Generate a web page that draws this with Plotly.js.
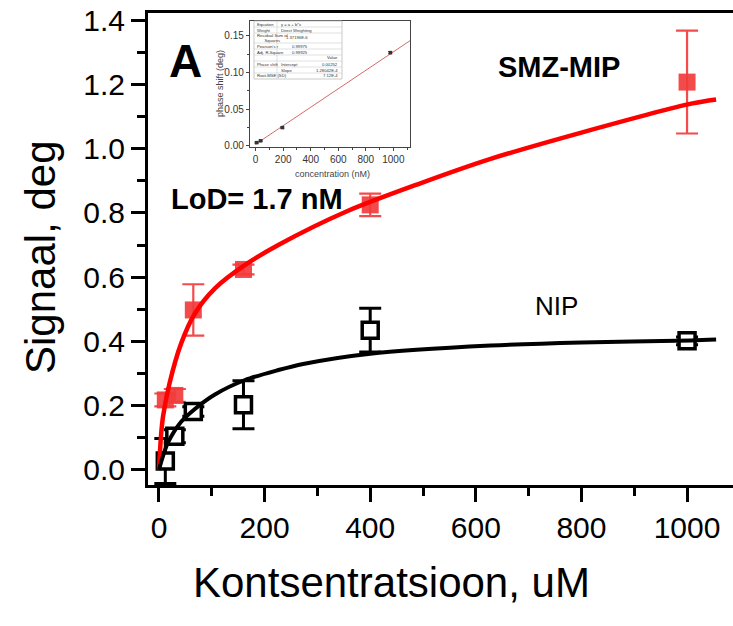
<!DOCTYPE html>
<html>
<head>
<meta charset="utf-8">
<script src="https://cdn.plot.ly/plotly-3.0.1.min.js"></script>
<style>html,body{margin:0;padding:0;background:#fff;}#chart{width:733px;height:626px;}</style>
</head>
<body>
<div id="chart"></div>
<script>
// ---------- data ----------
const concentration = [12, 30, 65, 160, 400, 1000];
const mipSignal = [0.218, 0.232, 0.498, 0.624, 0.825, 1.207];
const mipError = [0.02, 0.02, 0.08, 0.015, 0.035, 0.16];
const nipSignal = [0.028, 0.105, 0.182, 0.203, 0.435, 0.402];
const nipError = [0.07, 0.02, 0.015, 0.075, 0.068, 0.012];

const mipFitX = [0, 2, 4, 7.6, 20, 42, 68, 106, 163, 226, 356, 495, 628, 800, 1008, 1055];
const mipFitY = [0.0, 0.06, 0.11, 0.166, 0.27, 0.394, 0.487, 0.565, 0.638, 0.70, 0.805, 0.892, 0.968, 1.05, 1.14, 1.153];
const nipFitX = [0, 5, 17, 42, 68, 106, 163, 226, 273, 400, 628, 800, 1008, 1055];
const nipFitY = [0.0, 0.03, 0.085, 0.15, 0.19, 0.235, 0.28, 0.311, 0.33, 0.362, 0.387, 0.397, 0.403, 0.406];

const insetConc = [7, 36, 194, 978];
const insetShift = [0.0045, 0.007, 0.025, 0.127];
const insetErr = [0.0008, 0.0008, 0.001, 0.0015];
const insetLineX = [0, 1121];
const insetLineY = [0.0025, 0.1432];

const xTickVals = [0, 200, 400, 600, 800, 1000];
const yTickVals = [0.0, 0.2, 0.4, 0.6, 0.8, 1.0, 1.2, 1.4];
const yTickText = ['0.0', '0.2', '0.4', '0.6', '0.8', '1.0', '1.2', '1.4'];

const tableRows = [
  ['Equation', 'y = a + b*x', ''],
  ['Weight', 'Direct Weighting', ''],
  ['Residual Sum of<br>Squares', '1.37196E-6', ''],
  ["Pearson's r", '0.99975', ''],
  ['Adj. R-Square', '0.99925', ''],
  ['', '', 'Value'],
  ['Phase shift', 'Intercept', '0.00252'],
  ['', 'Slope', '1.28042E-4'],
  ['Root-MSE (SD)', '', '7.12E-4']
];

// ---------- layout helpers (pixel -> paper) ----------
const W = 733, H = 626, L = 148, R = 733, T = 13, B = 485;
function px(x) { return (x - L) / (R - L); }
function py(y) { return (B - y) / (B - T); }
const FONT = 'Liberation Sans, Arial, sans-serif';

const traces = [
  {
    x: concentration, y: mipSignal, type: 'scatter', mode: 'markers', name: 'SMZ-MIP',
    marker: {symbol: 'square', size: 17, color: 'rgba(242,60,60,0.92)'},
    error_y: {type: 'data', array: mipError, visible: true, color: 'rgba(242,60,60,0.92)', thickness: 2.2, width: 11},
    xaxis: 'x', yaxis: 'y', hoverinfo: 'skip'
  },
  {
    x: concentration, y: nipSignal, type: 'scatter', mode: 'markers', name: 'NIP',
    marker: {symbol: 'square', size: 16, color: '#ffffff', line: {color: '#000', width: 3.5}},
    error_y: {type: 'data', array: nipError, visible: true, color: '#000', thickness: 3, width: 11},
    xaxis: 'x', yaxis: 'y', hoverinfo: 'skip'
  },
  {
    x: mipFitX, y: mipFitY, type: 'scatter', mode: 'lines', name: 'MIP fit',
    line: {color: '#ff0000', width: 4.5, shape: 'spline', smoothing: 0.8},
    xaxis: 'x', yaxis: 'y', hoverinfo: 'skip'
  },
  {
    x: nipFitX, y: nipFitY, type: 'scatter', mode: 'lines', name: 'NIP fit',
    line: {color: '#000', width: 4, shape: 'spline', smoothing: 0.8},
    xaxis: 'x', yaxis: 'y', hoverinfo: 'skip'
  },
  {
    x: insetLineX, y: insetLineY, type: 'scatter', mode: 'lines',
    line: {color: '#d46a6a', width: 1},
    xaxis: 'x2', yaxis: 'y2', hoverinfo: 'skip'
  },
  {
    x: insetConc, y: insetShift, type: 'scatter', mode: 'markers',
    marker: {symbol: 'square', size: 3.5, color: '#333'},
    error_y: {type: 'data', array: insetErr, visible: true, color: '#333', thickness: 1, width: 2},
    xaxis: 'x2', yaxis: 'y2', hoverinfo: 'skip'
  }
];

const annotations = [
  {text: '<b>A</b>', x: px(185), y: py(61), font: {size: 46, color: '#000', family: FONT}},
  {text: '<b>SMZ-MIP</b>', x: px(559), y: py(67), font: {size: 29, color: '#000', family: FONT}},
  {text: '<b>LoD= 1.7 nM</b>', x: px(257), y: py(199), font: {size: 29, color: '#000', family: FONT}},
  {text: 'NIP', x: px(556), y: py(306), font: {size: 26, color: '#000', family: FONT}},
  {text: 'Kontsentratsioon, uM', x: px(391), y: py(582), font: {size: 42, color: '#000', family: FONT}},
  {text: 'Signaal, deg', x: px(40), y: py(257), textangle: -90, font: {size: 42, color: '#000', family: FONT}},
  {text: 'concentration (nM)', x: px(332), y: py(174), font: {size: 9, color: '#444', family: FONT}},
  {text: 'phase shift (deg)', x: px(220), y: py(84), textangle: -90, font: {size: 9, color: '#444', family: FONT}}
].map(a => Object.assign({xref: 'paper', yref: 'paper', showarrow: false, xanchor: 'center', yanchor: 'middle'}, a));

// inset table
const tabL = 254, tabR = 342, tabTop = 21;
const rowH = [6, 6, 10, 6, 6, 6, 6, 6, 6];
const colX = [255, 279, 313];
const shapes = [];
shapes.push({type: 'rect', xref: 'paper', yref: 'paper', x0: px(tabL), x1: px(tabR), y0: py(tabTop + rowH.reduce((a, b) => a + b, 0)), y1: py(tabTop),
  fillcolor: '#ffffff', line: {color: '#bbb', width: 0.8}, layer: 'above'});
let yy = tabTop;
tableRows.forEach((row, i) => {
  const yc = yy + rowH[i] / 2;
  row.forEach((cell, j) => {
    if (!cell) return;
    const isNum = j === 2 || (j === 1 && /^[0-9]/.test(cell));
    annotations.push({
      text: cell, xref: 'paper', yref: 'paper', showarrow: false,
      x: px(j === 2 ? tabR - 2 : (isNum ? 310 : colX[j])), y: py(yc),
      xanchor: (j === 2 || isNum) ? 'right' : 'left', yanchor: 'middle',
      font: {size: 4.2, color: '#333', family: FONT}
    });
  });
  yy += rowH[i];
  if (i < tableRows.length - 1) {
    shapes.push({type: 'line', xref: 'paper', yref: 'paper', x0: px(tabL), x1: px(tabR), y0: py(yy), y1: py(yy),
      line: {color: '#ccc', width: 0.6}, layer: 'above'});
  }
});
shapes.push({type: 'line', xref: 'paper', yref: 'paper', x0: px(277), x1: px(277), y0: py(yy), y1: py(tabTop), line: {color: '#ccc', width: 0.6}, layer: 'above'});

const layout = {
  width: W, height: H,
  margin: {l: L, r: W - R, t: T, b: H - B, pad: 0},
  paper_bgcolor: '#fff', plot_bgcolor: '#fff',
  showlegend: false,
  font: {family: FONT, color: '#000'},
  xaxis: {
    domain: [0, 1], range: [-20.8, 1087], showgrid: false, zeroline: false,
    showline: true, linecolor: '#000', linewidth: 3, mirror: true,
    ticks: 'outside', ticklen: 14, tickwidth: 3, tickcolor: '#000',
    tickvals: xTickVals, tickfont: {size: 30, family: FONT, color: '#000'},
    minor: {dtick: 100, tick0: 0, ticks: 'outside', ticklen: 8, tickwidth: 3, tickcolor: '#000', showgrid: false}
  },
  yaxis: {
    domain: [0, 1], range: [-0.0467, 1.422], showgrid: false, zeroline: false,
    showline: true, linecolor: '#000', linewidth: 3, mirror: false,
    ticks: 'outside', ticklen: 14, tickwidth: 3, tickcolor: '#000',
    tickvals: yTickVals, ticktext: yTickText, tickfont: {size: 30, family: FONT, color: '#000'},
    minor: {dtick: 0.1, tick0: 0, ticks: 'outside', ticklen: 8, tickwidth: 3, tickcolor: '#000', showgrid: false}
  },
  xaxis2: {
    domain: [px(250), px(410)], anchor: 'y2', range: [-41, 1121], showgrid: false, zeroline: false,
    showline: true, linecolor: '#444', linewidth: 1.2, mirror: true,
    ticks: 'outside', ticklen: 3, tickwidth: 1, tickcolor: '#444',
    dtick: 200, tick0: 0, tickfont: {size: 10, family: FONT, color: '#333'},
    minor: {dtick: 100, ticks: 'outside', ticklen: 2, tickwidth: 1, tickcolor: '#444'}
  },
  yaxis2: {
    domain: [py(147), py(21)], anchor: 'x2', range: [-0.0014, 0.170], showgrid: false, zeroline: false,
    showline: true, linecolor: '#444', linewidth: 1.2, mirror: true,
    ticks: 'outside', ticklen: 3, tickwidth: 1, tickcolor: '#444',
    dtick: 0.05, tick0: 0, tickformat: '.2f', tickfont: {size: 10, family: FONT, color: '#333'},
    minor: {dtick: 0.025, ticks: 'outside', ticklen: 2, tickwidth: 1, tickcolor: '#444'}
  },
  annotations: annotations,
  shapes: shapes
};

Plotly.newPlot('chart', traces, layout, {displayModeBar: false, staticPlot: true});
</script>
</body>
</html>
